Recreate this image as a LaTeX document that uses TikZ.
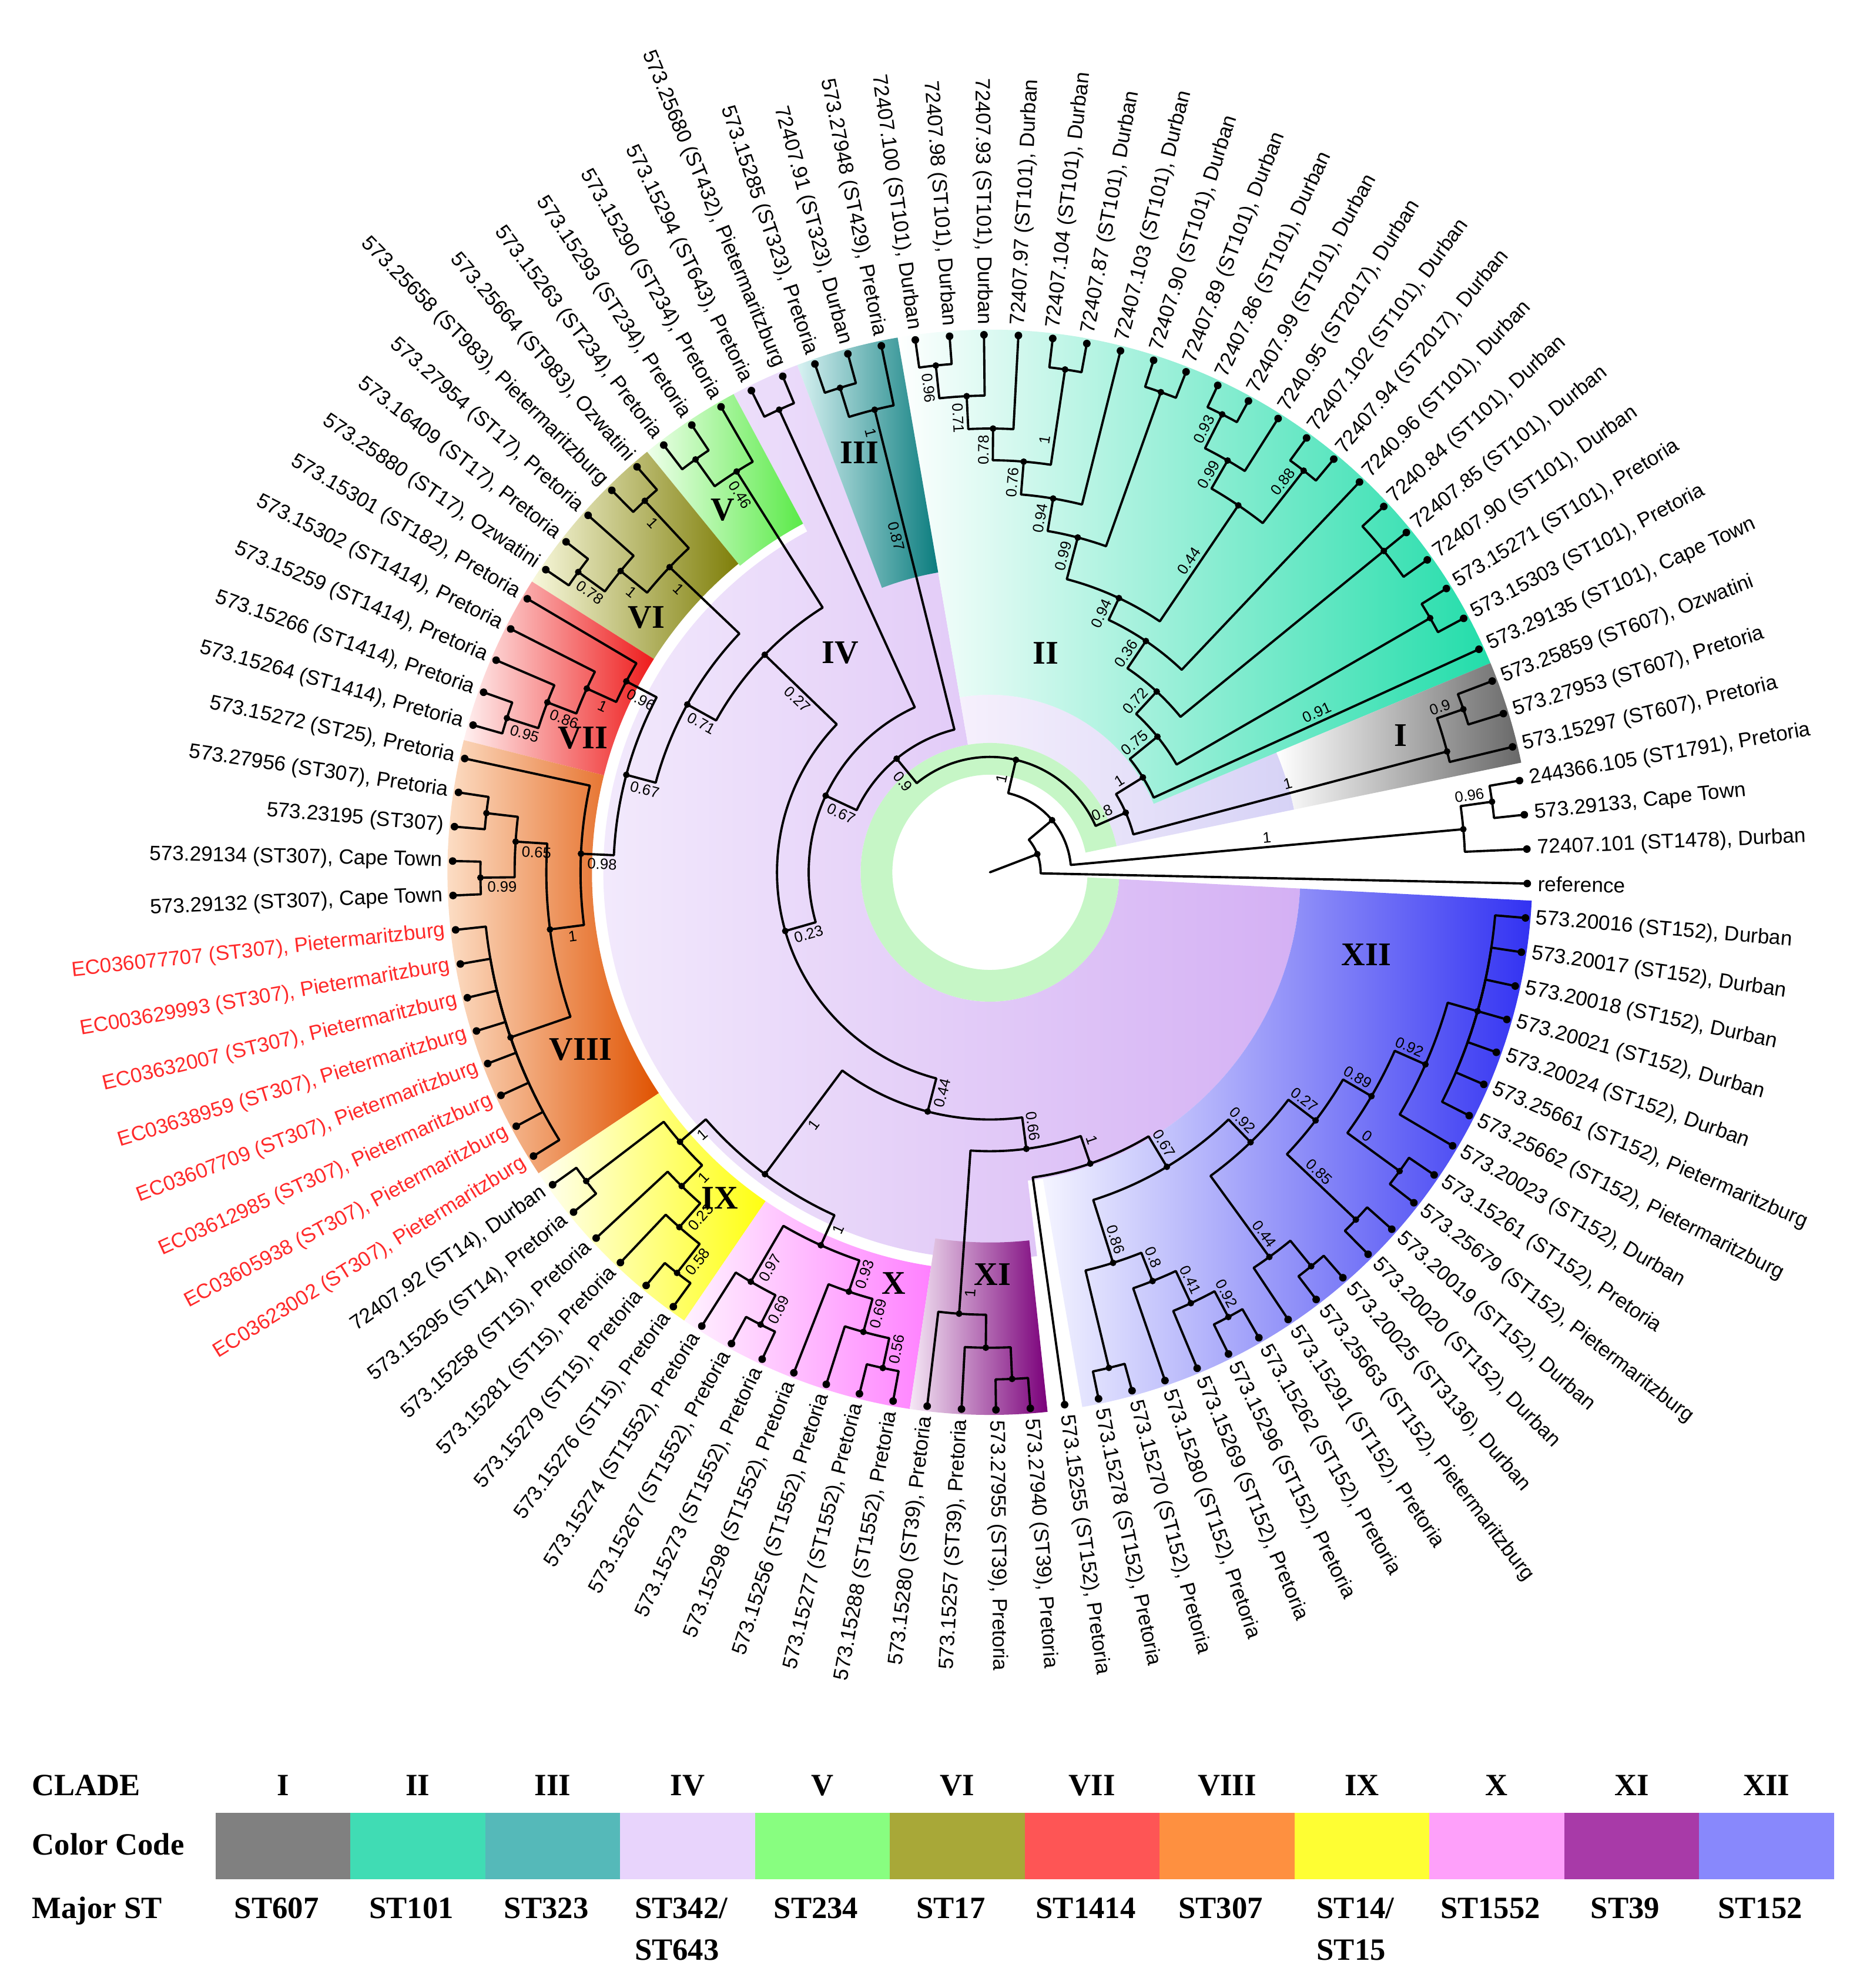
\documentclass[tikz,border=0pt]{standalone}
\usepackage{fontspec}
\setmainfont{Liberation Serif}
\newfontfamily\lblfont{Liberation Sans}
\usetikzlibrary{calc}
\definecolor{cI}{HTML}{808080}
\definecolor{cII}{HTML}{40DCB4}
\definecolor{cIII}{HTML}{55B9B9}
\definecolor{cIV}{HTML}{E8D4FC}
\definecolor{cV}{HTML}{88FE80}
\definecolor{cVI}{HTML}{A8A838}
\definecolor{cVII}{HTML}{FE5555}
\definecolor{cVIII}{HTML}{FE9040}
\definecolor{cIX}{HTML}{FEFE33}
\definecolor{cX}{HTML}{FEA0FA}
\definecolor{cXI}{HTML}{A83AA8}
\definecolor{cXII}{HTML}{8888FC}
\definecolor{ivL}{HTML}{F3EBFC}
\definecolor{ivR}{HTML}{D4B0F4}
\definecolor{pwL}{HTML}{F6F0FC}
\definecolor{pwR}{HTML}{D6D2F6}
\definecolor{ringg}{HTML}{C6F6C6}
\definecolor{IR}{HTML}{686868}
\definecolor{IIR}{HTML}{22DDAA}
\definecolor{IIIL}{HTML}{D8F2F2}
\definecolor{IIIR}{HTML}{0A7C7E}
\definecolor{VL}{HTML}{EEFFEA}
\definecolor{VR}{HTML}{5AEA48}
\definecolor{VIL}{HTML}{F8F8DC}
\definecolor{VIR}{HTML}{7E7E08}
\definecolor{VIIL}{HTML}{FFF0F0}
\definecolor{VIIR}{HTML}{EE1C1C}
\definecolor{VIIIL}{HTML}{FFEBD8}
\definecolor{VIIIR}{HTML}{E05200}
\definecolor{IXL}{HTML}{FFFFF2}
\definecolor{IXR}{HTML}{FFFF10}
\definecolor{XL}{HTML}{FFF2FF}
\definecolor{XR}{HTML}{FF80FF}
\definecolor{XIL}{HTML}{F5E8F5}
\definecolor{XIR}{HTML}{7A007A}
\definecolor{XIIL}{HTML}{F4F4FF}
\definecolor{XIIR}{HTML}{3232F2}
\definecolor{redlbl}{HTML}{FF2A2A}

\def\Azero{-1.2}
\def\dA{3.6735}
\newcount\bvcnt
\newcommand\angOf[1]{\csname ta-#1\endcsname}
\newcommand\radOf[1]{\csname tr-#1\endcsname}
\newcommand\tnd[3]{%
  \expandafter\xdef\csname ta-#1\endcsname{#2}%
  \expandafter\xdef\csname tr-#1\endcsname{#3}%
  \coordinate (#1) at (#2:#3);}
\newcommand\brn[2]{\draw[tree] (#1) arc[start angle=\angOf{#1}, end angle=\angOf{#2}, radius=\radOf{#1}] -- (#2);}
\newcommand\sectr[4]{(#1:#3) arc[start angle=#1,end angle=#2,radius=#3] -- (#2:#4) arc[start angle=#2,end angle=#1,radius=#4] -- cycle}
\newcommand\lf[3][black]{%
  \pgfmathsetmacro\la{\Azero+\dA*#2}%
  \tnd{L#2}{\la}{424}%
  \pgfmathtruncatemacro\flip{and(\la>90,\la<270)}%
  \ifnum\flip=1
    \node[lbl,text=#1,anchor=east,rotate=\la+180] (T#2) at (\la:432) {#3};%
  \else
    \node[lbl,text=#1,anchor=west,rotate=\la] (T#2) at (\la:432) {#3};%
  \fi}
\newcommand\bval[3][0]{%
  \pgfmathsetmacro\ba{\angOf{#2}}%
  \pgfmathsetmacro\bro{\radOf{#2}-17+(#1)}%
  \pgfmathtruncatemacro\bflip{and(\ba>90,\ba<270)}%
  \ifnum\bflip=1 \pgfmathsetmacro\brot{\ba+180}\else\pgfmathsetmacro\brot{\ba}\fi
  \global\advance\bvcnt by 1
  \node[bsl,rotate=\brot] (bv\the\bvcnt) at ([shift={(\ba+90:7.5)}]\ba:\bro) {#3};}

\tikzset{
  tree/.style={line width=1.1pt, line join=round, line cap=round},
  lbl/.style={font=\lblfont\fontsize{10}{12}\selectfont, inner sep=0pt},
  bsl/.style={font=\lblfont\fontsize{7.3}{8}\selectfont, inner sep=0pt},
  clab/.style={font=\fontsize{16}{16}\selectfont\bfseries, inner sep=0pt},
  leg/.style={font=\fontsize{15}{20}\selectfont\bfseries, inner sep=0pt},
  dot/.style={fill=black}
}

\begin{document}
\begin{tikzpicture}[x=0.02157cm,y=0.02157cm]
\useasboundingbox (-781,-880) rectangle (686,688);
\fill[white] (-781,-880) rectangle (686,688);

% ---- clade IV background and ring
\shade[left color=ivL, right color=ivR] \sectr{99.8}{277}{102}{305} \sectr{110.8}{118.2}{305}{428} \sectr{277}{357}{102}{245};
\shade[left color=pwL, right color=pwR] \sectr{22.68}{99.8}{102}{140} \sectr{11.66}{22.68}{102}{245};
\fill[ringg] \sectr{11.66}{357}{77}{102};

% ---- clade sectors
\shade[left color=white, right color=IIR] \sectr{22.68}{99.8}{140}{428};
\shade[left color=white, right color=IR] \sectr{11.66}{22.68}{245}{428};
\shade[left color=IIIL, right color=IIIR] \sectr{99.8}{110.8}{240}{428};
\shade[left color=VL, right color=VR] \sectr{118.2}{129.2}{312}{428};
\shade[left color=VIL, right color=VIR] \sectr{129.2}{147.6}{314}{428};
\shade[left color=VIIL, right color=VIIR] \sectr{147.6}{165.9}{314}{428};
\shade[left color=VIIIL, right color=VIIIR] \sectr{165.9}{213.7}{314}{428};
\shade[left color=IXL, right color=IXR] \sectr{213.7}{235.7}{314}{428};
\shade[left color=XL, right color=XR] \sectr{235.7}{261.5}{314}{428};
\shade[left color=XIL, right color=XIR] \sectr{261.5}{276.1}{292}{428};
\shade[left color=XIIL, right color=XIIR] \sectr{279.8}{357}{245}{428};

% ---- clade numerals
\node[clab] (kI) at (324,108) {I};
\node[clab] (kII) at (44,173) {II};
\node[clab] (kIII) at (-103,331) {III};
\node[clab] (kIV) at (-118,173) {IV};
\node[clab] (kV) at (-211,286) {V};
\node[clab] (kVI) at (-271,201) {VI};
\node[clab] (kVII) at (-321,106) {VII};
\node[clab] (kVIII) at (-323,-140) {VIII};
\node[clab] (kIX) at (-213,-257) {IX};
\node[clab] (kX) at (-76,-324) {X};
\node[clab] (kXI) at (2,-317) {XI};
\node[clab] (kXII) at (297,-65) {XII};

% ---- leaves
\lf{0}{reference}
\lf{1}{72407.101 (ST1478), Durban}
\lf{2}{573.29133, Cape Town}
\lf{3}{244366.105 (ST1791), Pretoria}
\lf{4}{573.15297 (ST607), Pretoria}
\lf{5}{573.27953 (ST607), Pretoria}
\lf{6}{573.25859 (ST607), Ozwatini}
\lf{7}{573.29135 (ST101), Cape Town}
\lf{8}{573.15303 (ST101), Pretoria}
\lf{9}{573.15271 (ST101), Pretoria}
\lf{10}{72407.90 (ST101), Durban}
\lf{11}{72407.85 (ST101), Durban}
\lf{12}{7240.84 (ST101), Durban}
\lf{13}{7240.96 (ST101), Durban}
\lf{14}{72407.94 (ST2017), Durban}
\lf{15}{72407.102 (ST101), Durban}
\lf{16}{7240.95 (ST2017), Durban}
\lf{17}{72407.99 (ST101), Durban}
\lf{18}{72407.86 (ST101), Durban}
\lf{19}{72407.89 (ST101), Durban}
\lf{20}{72407.90 (ST101), Durban}
\lf{21}{72407.103 (ST101), Durban}
\lf{22}{72407.87 (ST101), Durban}
\lf{23}{72407.104 (ST101), Durban}
\lf{24}{72407.97 (ST101), Durban}
\lf{25}{72407.93 (ST101), Durban}
\lf{26}{72407.98 (ST101), Durban}
\lf{27}{72407.100 (ST101), Durban}
\lf{28}{573.27948 (ST429), Pretoria}
\lf{29}{72407.91 (ST323), Durban}
\lf{30}{573.15285 (ST323), Pretoria}
\lf{31}{573.25680 (ST432), Pietermaritzburg}
\lf{32}{573.15294 (ST643), Pretoria}
\lf{33}{573.15290 (ST234), Pretoria}
\lf{34}{573.15293 (ST234), Pretoria}
\lf{35}{573.15263 (ST234), Pretoria}
\lf{36}{573.25664 (ST983), Ozwatini}
\lf{37}{573.25658 (ST983), Pietermaritzburg}
\lf{38}{573.27954 (ST17), Pretoria}
\lf{39}{573.16409 (ST17), Pretoria}
\lf{40}{573.25880 (ST17), Ozwatini}
\lf{41}{573.15301 (ST182), Pretoria}
\lf{42}{573.15302 (ST1414), Pretoria}
\lf{43}{573.15259 (ST1414), Pretoria}
\lf{44}{573.15266 (ST1414), Pretoria}
\lf{45}{573.15264 (ST1414), Pretoria}
\lf{46}{573.15272 (ST25), Pretoria}
\lf{47}{573.27956 (ST307), Pretoria}
\lf{48}{573.23195 (ST307)}
\lf{49}{573.29134 (ST307), Cape Town}
\lf{50}{573.29132 (ST307), Cape Town}
\lf[redlbl]{51}{EC036077707 (ST307), Pietermaritzburg}
\lf[redlbl]{52}{EC003629993 (ST307), Pietermaritzburg}
\lf[redlbl]{53}{EC03632007 (ST307), Pietermaritzburg}
\lf[redlbl]{54}{EC03638959 (ST307), Pietermaritzburg}
\lf[redlbl]{55}{EC03607709 (ST307), Pietermaritzburg}
\lf[redlbl]{56}{EC03612985 (ST307), Pietermaritzburg}
\lf[redlbl]{57}{EC03605938 (ST307), Pietermaritzburg}
\lf[redlbl]{58}{EC03623002 (ST307), Pietermaritzburg}
\lf{59}{72407.92 (ST14), Durban}
\lf{60}{573.15295 (ST14), Pretoria}
\lf{61}{573.15258 (ST15), Pretoria}
\lf{62}{573.15281 (ST15), Pretoria}
\lf{63}{573.15279 (ST15), Pretoria}
\lf{64}{573.15276 (ST15), Pretoria}
\lf{65}{573.15274 (ST1552), Pretoria}
\lf{66}{573.15267 (ST1552), Pretoria}
\lf{67}{573.15273 (ST1552), Pretoria}
\lf{68}{573.15298 (ST1552), Pretoria}
\lf{69}{573.15256 (ST1552), Pretoria}
\lf{70}{573.15277 (ST1552), Pretoria}
\lf{71}{573.15288 (ST1552), Pretoria}
\lf{72}{573.15280 (ST39), Pretoria}
\lf{73}{573.15257 (ST39), Pretoria}
\lf{74}{573.27955 (ST39), Pretoria}
\lf{75}{573.27940 (ST39), Pretoria}
\lf{76}{573.15255 (ST152), Pretoria}
\lf{77}{573.15278 (ST152), Pretoria}
\lf{78}{573.15270 (ST152), Pretoria}
\lf{79}{573.15280 (ST152), Pretoria}
\lf{80}{573.15269 (ST152), Pretoria}
\lf{81}{573.15296 (ST152), Pretoria}
\lf{82}{573.15262 (ST152), Pretoria}
\lf{83}{573.15291 (ST152), Pretoria}
\lf{84}{573.25663 (ST152), Pietermaritzburg}
\lf{85}{573.20025 (ST3136), Durban}
\lf{86}{573.20020 (ST152), Durban}
\lf{87}{573.20019 (ST152), Durban}
\lf{88}{573.25679 (ST152), Pietermaritzburg}
\lf{89}{573.15261 (ST152), Pretoria}
\lf{90}{573.20023 (ST152), Durban}
\lf{91}{573.25662 (ST152), Pietermaritzburg}
\lf{92}{573.25661 (ST152), Pietermaritzburg}
\lf{93}{573.20024 (ST152), Durban}
\lf{94}{573.20021 (ST152), Durban}
\lf{95}{573.20018 (ST152), Durban}
\lf{96}{573.20017 (ST152), Durban}
\lf{97}{573.20016 (ST152), Durban}

% ---- internal nodes (angle, radius)
\tnd{A}{21}{40}
\tnd{B}{40}{64}
\tnd{O}{5.2}{375}
\tnd{O2}{8}{400}
\tnd{D}{77}{91}
\tnd{E}{23.7}{117}
\tnd{In}{14.8}{373}
\tnd{I2}{19}{395}
\tnd{IIr}{31.8}{142}
\tnd{n075}{39}{170}
\tnd{n98}{30}{401}
\tnd{n072}{47.3}{194}
\tnd{n1012}{39.2}{401}
\tnd{n036}{56}{220}
\tnd{n094}{64.8}{239}
\tnd{n044b}{55.9}{349.5}
\tnd{n1415}{52}{402}
\tnd{n099b}{60}{375}
\tnd{n1718}{63.1}{405}
\tnd{n099}{75.3}{273}
\tnd{n1920}{70.4}{402}
\tnd{n094b}{80.4}{299}
\tnd{n076}{85.3}{325}
\tnd{n2223}{81.5}{401}
\tnd{n078}{89.6}{350}
\tnd{n071}{92.8}{376}
\tnd{n096}{96.1}{402}
\tnd{F}{129.4}{116}
\tnd{IIIn}{104}{376}
\tnd{n2930}{107.2}{400}
\tnd{P}{155}{143}
\tnd{IVt}{114.5}{401}
\tnd{K}{196}{168}
\tnd{Q}{136}{247}
\tnd{Vn}{122.3}{374}
\tnd{n3435}{125.5}{400}
\tnd{R}{151}{273}
\tnd{VIr}{136.4}{349}
\tnd{n3637}{132.9}{400}
\tnd{n078b}{140.8}{376}
\tnd{n3940}{143.9}{402}
\tnd{S}{165}{297}
\tnd{VIIr}{152.3}{324}
\tnd{n086b}{155.5}{349.5}
\tnd{n095}{159}{374}
\tnd{n4445}{162.3}{400}
\tnd{VIIIr}{177.4}{323}
\tnd{n1c}{187.4}{350}
\tnd{n065}{176.3}{375}
\tnd{n4748}{173.3}{400}
\tnd{n099c}{180.6}{402}
\tnd{combA}{199}{400}
\tnd{T}{255.4}{195}
\tnd{U}{233.3}{297}
\tnd{IXr}{221}{324}
\tnd{n5960}{217.4}{401}
\tnd{n1d}{225.5}{347}
\tnd{n023}{228.8}{372}
\tnd{n058}{232}{401}
\tnd{Xr}{245.6}{323}
\tnd{n097}{239.7}{374}
\tnd{n6667}{243.1}{400}
\tnd{n093}{251.4}{349}
\tnd{n069}{254.6}{376}
\tnd{n7071}{257.8}{400}
\tnd{W}{277.5}{220}
\tnd{XIr}{266}{349}
\tnd{n73}{269.5}{375}
\tnd{n7475}{272.5}{400}
\tnd{Xa}{289}{243}
\tnd{XIIr}{301}{271}
\tnd{n086c}{287.5}{323}
\tnd{n7778}{283.5}{402}
\tnd{n08}{291.7}{347}
\tnd{n041}{295}{375}
\tnd{n8182}{298.2}{398}
\tnd{n092a}{314}{296}
\tnd{n044c}{306}{375}
\tnd{n8485}{309.2}{401}
\tnd{n027}{322.7}{323}
\tnd{n8687}{316.5}{398}
\tnd{n089}{329.6}{349}
\tnd{n8889}{323.9}{400}
\tnd{n092b}{336.2}{375.5}
\tnd{combB}{344.1}{400}

% ---- branches
\draw[tree] (0,0) -- (A);
\brn{A}{L0} \brn{A}{B}
\brn{B}{O} \brn{B}{D}
\brn{O}{L1} \brn{O}{O2} \brn{O2}{L2} \brn{O2}{L3}
\brn{D}{E} \brn{D}{F}
\brn{E}{In} \brn{E}{IIr}
\brn{In}{L4} \brn{In}{I2} \brn{I2}{L5} \brn{I2}{L6}
\brn{IIr}{L7} \brn{IIr}{n075}
\brn{n075}{n98} \brn{n075}{n072}
\brn{n98}{L8} \brn{n98}{L9}
\brn{n072}{n1012} \brn{n072}{n036}
\brn{n1012}{L10} \brn{n1012}{L11} \brn{n1012}{L12}
\brn{n036}{L13} \brn{n036}{n094}
\brn{n094}{n044b} \brn{n094}{n099}
\brn{n044b}{n1415} \brn{n044b}{n099b}
\brn{n1415}{L14} \brn{n1415}{L15}
\brn{n099b}{L16} \brn{n099b}{n1718}
\brn{n1718}{L17} \brn{n1718}{L18}
\brn{n099}{n1920} \brn{n099}{n094b}
\brn{n1920}{L19} \brn{n1920}{L20}
\brn{n094b}{L21} \brn{n094b}{n076}
\brn{n076}{n2223} \brn{n076}{n078}
\brn{n2223}{L22} \brn{n2223}{L23}
\brn{n078}{L24} \brn{n078}{n071}
\brn{n071}{L25} \brn{n071}{n096}
\brn{n096}{L26} \brn{n096}{L27}
\brn{F}{IIIn} \brn{F}{P}
\brn{IIIn}{L28} \brn{IIIn}{n2930} \brn{n2930}{L29} \brn{n2930}{L30}
\brn{P}{IVt} \brn{P}{K}
\brn{IVt}{L31} \brn{IVt}{L32}
\brn{K}{Q} \brn{K}{T}
\brn{Q}{Vn} \brn{Q}{R}
\brn{Vn}{L33} \brn{Vn}{n3435} \brn{n3435}{L34} \brn{n3435}{L35}
\brn{R}{VIr} \brn{R}{S}
\brn{VIr}{n3637} \brn{VIr}{n078b}
\brn{n3637}{L36} \brn{n3637}{L37}
\brn{n078b}{L38} \brn{n078b}{n3940}
\brn{n3940}{L39} \brn{n3940}{L40}
\brn{S}{VIIr} \brn{S}{VIIIr}
\brn{VIIr}{L41} \brn{VIIr}{n086b}
\brn{n086b}{L42} \brn{n086b}{n095}
\brn{n095}{L43} \brn{n095}{n4445}
\brn{n4445}{L44} \brn{n4445}{L45}
\brn{VIIIr}{L46} \brn{VIIIr}{n1c}
\brn{n1c}{n065} \brn{n1c}{combA}
\brn{n065}{n4748} \brn{n065}{n099c}
\brn{n4748}{L47} \brn{n4748}{L48}
\brn{n099c}{L49} \brn{n099c}{L50}
\foreach \c in {51,...,58} {\brn{combA}{L\c}}
\brn{T}{U} \brn{T}{W}
\brn{U}{IXr} \brn{U}{Xr}
\brn{IXr}{n5960} \brn{IXr}{n1d}
\brn{n5960}{L59} \brn{n5960}{L60}
\brn{n1d}{L61} \brn{n1d}{n023}
\brn{n023}{L62} \brn{n023}{n058}
\brn{n058}{L63} \brn{n058}{L64}
\brn{Xr}{n097} \brn{Xr}{n093}
\brn{n097}{L65} \brn{n097}{n6667}
\brn{n6667}{L66} \brn{n6667}{L67}
\brn{n093}{L68} \brn{n093}{n069}
\brn{n069}{L69} \brn{n069}{n7071}
\brn{n7071}{L70} \brn{n7071}{L71}
\brn{W}{XIr} \brn{W}{Xa}
\brn{XIr}{L72} \brn{XIr}{n73}
\brn{n73}{L73} \brn{n73}{n7475}
\brn{n7475}{L74} \brn{n7475}{L75}
\brn{Xa}{L76} \brn{Xa}{XIIr}
\brn{XIIr}{n086c} \brn{XIIr}{n092a}
\brn{n086c}{n7778} \brn{n086c}{n08}
\brn{n7778}{L77} \brn{n7778}{L78}
\brn{n08}{L79} \brn{n08}{n041}
\brn{n041}{L80} \brn{n041}{n8182}
\brn{n8182}{L81} \brn{n8182}{L82}
\brn{n092a}{n044c} \brn{n092a}{n027}
\brn{n044c}{L83} \brn{n044c}{n8485}
\brn{n8485}{L84} \brn{n8485}{L85}
\brn{n027}{n8687} \brn{n027}{n089}
\brn{n8687}{L86} \brn{n8687}{L87}
\brn{n089}{n8889} \brn{n089}{n092b}
\brn{n8889}{L88} \brn{n8889}{L89}
\brn{n092b}{L90} \brn{n092b}{combB}
\foreach \c in {91,...,97} {\brn{combB}{L\c}}

% ---- dots
\foreach \i in {0,...,97} {\fill[dot] (L\i) circle[radius=3];}
\foreach \n in {A,B,O,O2,D,E,In,I2,IIr,n075,n98,n072,n1012,n036,n094,n044b,n1415,n099b,n1718,n099,n1920,n094b,n076,n2223,n078,n071,n096,F,IIIn,n2930,P,IVt,K,Q,Vn,n3435,R,VIr,n3637,n078b,n3940,S,VIIr,n086b,n095,n4445,VIIIr,n1c,n065,n4748,n099c,combA,T,U,IXr,n5960,n1d,n023,n058,Xr,n097,n6667,n093,n069,n7071,W,XIr,n73,n7475,Xa,XIIr,n086c,n7778,n08,n041,n8182,n092a,n044c,n8485,n027,n8687,n089,n8889,n092b,combB} {\fill[dot] (\n) circle[radius=2.6];}

% ---- support values
\bval{D}{1} \bval{F}{0.9} \bval{E}{0.8} \bval[-138]{O}{1} \bval{O2}{0.96}
\bval[-111]{In}{1} \bval{I2}{0.9} \bval{IIr}{1} \bval[-120]{L7}{0.91}
\bval{n075}{0.75} \bval{n072}{0.72} \bval{n036}{0.36} \bval{n094}{0.94} \bval{n099}{0.99}
\bval{n094b}{0.94} \bval{n076}{0.76} \bval{n078}{0.78} \bval{n071}{0.71} \bval{n096}{0.96}
\bval[-40]{n2223}{1} \bval[-41]{n044b}{0.44} \bval{n1415}{0.88} \bval{n099b}{0.99} \bval{n1718}{0.93}
\bval{IIIn}{1} \bval[-84]{IIIn}{0.87}
\bval{P}{0.67} \bval{K}{0.23} \bval[-26]{Q}{0.27} \bval{Vn}{0.46} \bval{R}{0.71} \bval{S}{0.67}
\bval{VIr}{1} \bval{n3637}{1} \bval{n078b}{1} \bval{n3940}{0.78}
\bval{VIIr}{0.96} \bval{n086b}{1} \bval{n095}{0.86} \bval{n4445}{0.95}
\bval{VIIIr}{0.98} \bval{n1c}{1} \bval{n065}{0.65} \bval{n099c}{0.99}
\bval{T}{0.44} \bval[-37]{U}{1} \bval{W}{0.66}
\bval{IXr}{1} \bval{n1d}{1} \bval{n023}{0.23} \bval{n058}{0.58}
\bval{Xr}{1} \bval{n097}{0.97} \bval{n6667}{0.69} \bval{n093}{0.93} \bval{n069}{0.69} \bval{n7071}{0.56}
\bval{XIr}{1}
\bval{Xa}{1} \bval{XIIr}{0.67} \bval{n086c}{0.86} \bval{n08}{0.8} \bval{n041}{0.41} \bval{n8182}{0.92}
\bval{n092a}{0.92} \bval{n044c}{0.44} \bval{n027}{0.27} \bval[-30]{n8687}{0.85} \bval{n089}{0.89}
\bval[-20]{n8889}{0} \bval{n092b}{0.92}

% ---- legend
\node[leg,anchor=base west] (lgA) at (-756,-728) {CLADE};
\node[leg,anchor=base west] (lgB) at (-756,-775) {Color Code};
\node[leg,anchor=base west] (lgC) at (-756,-825) {Major ST};
\foreach \c [count=\i from 0] in {cI,cII,cIII,cIV,cV,cVI,cVII,cVIII,cIX,cX,cXI,cXII}
  {\fill[\c] ({-611+106.4*\i},-794) rectangle ++(106.4,52);}
\foreach \tx [count=\i from 0] in {I,II,III,IV,V,VI,VII,VIII,IX,X,XI,XII}
  {\node[leg,anchor=base] (cn\i) at ({-611+106.4*(\i+0.5)},-728) {\tx};}
\foreach \tx [count=\i from 0] in {ST607,ST101,ST323,ST342/,ST234,ST17,ST1414,ST307,ST14/,ST1552,ST39,ST152}
  {\node[leg,anchor=base] (st\i) at ({-611+106.4*(\i+0.5)-5},-825) {\tx};}
\node[leg,anchor=base west] (st3b) at ($(st3.base west)+(0,-33)$) {ST643};
\node[leg,anchor=base west] (st8b) at ($(st8.base west)+(0,-33)$) {ST15};
\end{tikzpicture}
\end{document}
